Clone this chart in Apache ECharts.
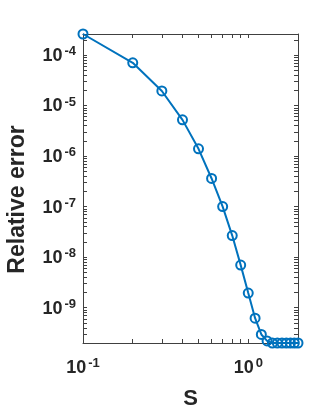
<!DOCTYPE html>
<html>
<head>
<meta charset="utf-8">
<script src="https://cdn.jsdelivr.net/npm/echarts@6/dist/echarts.min.js"></script>
<style>
  html, body { margin: 0; padding: 0; background: #fff; }
  #chart { width: 332px; height: 416px; }
</style>
</head>
<body>
<div id="chart"></div>
<script>
// data
var sValues = [0.1, 0.2, 0.3, 0.4, 0.5, 0.6, 0.7, 0.8, 0.9, 1.0,
               1.1, 1.2, 1.3, 1.4, 1.5, 1.6, 1.7, 1.8, 1.9, 2.0];
var relErr = [2.6e-4, 7.0e-5, 1.94e-5, 5.2e-6, 1.39e-6, 3.6e-7, 1.0e-7, 2.67e-8, 6.95e-9, 1.95e-9,
              6.2e-10, 2.95e-10, 2.2e-10, 2.0e-10, 2.0e-10, 2.0e-10, 2.0e-10, 2.0e-10, 2.0e-10, 2.0e-10];
var xRange = [0.1, 2];
var yRange = [2.0e-10, 2.6e-4];

var textColor = '#262626';
var axisColor = '#404040';
var lineColor = '#0072BD';

// minor tick positions 1..9 x 10^k inside an axis range
function logTicks(lo, hi) {
    var out = [];
    for (var k = Math.floor(Math.log10(lo)); k <= Math.ceil(Math.log10(hi)); k++) {
        for (var m = 1; m <= 9; m++) {
            var v = m * Math.pow(10, k);
            if (v >= lo * 0.999 && v <= hi * 1.001) out.push(v);
        }
    }
    return out;
}

// 10^n label with a superscript
function powLabel(v) {
    var e = Math.log10(v);
    if (Math.abs(e - Math.round(e)) > 1e-6) return '';
    return '{b|10}{s|' + Math.round(e) + '}';
}

var richPow = {
    b: { fontSize: 18, fontWeight: 'bold', color: textColor, fontFamily: 'Liberation Sans', lineHeight: 20, verticalAlign: 'bottom' },
    s: { fontSize: 13, fontWeight: 'bold', color: textColor, fontFamily: 'Liberation Sans', lineHeight: 20, verticalAlign: 'top', padding: [0, 0, 9, 2] }
};

function boxAxis(pos, range, ticks, showLabel) {
    return {
        type: 'log',
        logBase: 10,
        position: pos,
        min: range[0],
        max: range[1],
        axisLine: { show: true, onZero: false, lineStyle: { color: axisColor, width: 1 } },
        axisTick: { show: true, inside: true, length: 4, customValues: ticks, lineStyle: { color: axisColor } },
        minorTick: { show: false },
        splitLine: { show: false },
        axisLabel: showLabel ? {
            show: true,
            formatter: powLabel,
            rich: richPow,
            margin: 7
        } : { show: false }
    };
}

var chart = echarts.init(document.getElementById('chart'));

var xMain = boxAxis('bottom', xRange, logTicks(xRange[0], xRange[1]), true);
xMain.axisLabel.margin = 14;
xMain.name = 'S';
xMain.nameLocation = 'middle';
xMain.nameGap = 45;
xMain.nameTextStyle = { fontSize: 22, fontWeight: 'bold', color: textColor, fontFamily: 'Liberation Sans' };

var yMain = boxAxis('left', yRange, logTicks(yRange[0], yRange[1]), true);
yMain.name = 'Relative error';
yMain.nameLocation = 'middle';
yMain.nameGap = 54;
yMain.nameTextStyle = { fontSize: 23, fontWeight: 'bold', color: textColor, fontFamily: 'Liberation Sans', padding: [0, 22, 0, 0] };

chart.setOption({
    animation: false,
    backgroundColor: '#fff',
    grid: { left: 83, right: 34, top: 34, bottom: 73, containLabel: false, outerBoundsMode: 'none' },
    xAxis: [xMain, boxAxis('top', xRange, logTicks(xRange[0], xRange[1]), false)],
    yAxis: [yMain, boxAxis('right', yRange, logTicks(yRange[0], yRange[1]), false)],
    series: [
        {
            type: 'line',
            xAxisIndex: 0,
            yAxisIndex: 0,
            data: sValues.map(function (s, i) { return [s, relErr[i]]; }),
            clip: false,
            symbol: 'circle',
            symbolSize: 9,
            lineStyle: { color: lineColor, width: 2 },
            itemStyle: { color: 'rgba(255,255,255,0)', borderColor: lineColor, borderWidth: 2 }
        }
    ]
});
</script>
</body>
</html>
